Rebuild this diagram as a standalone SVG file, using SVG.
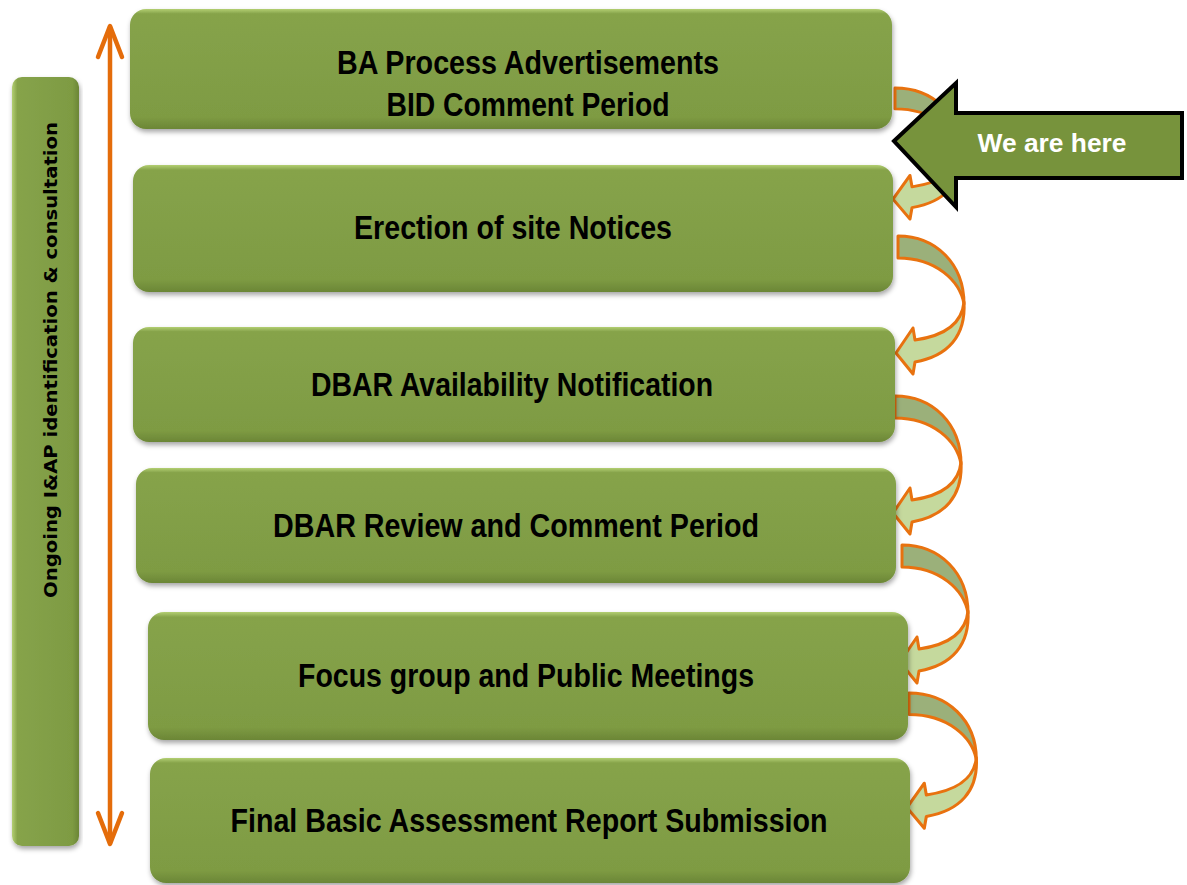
<svg xmlns="http://www.w3.org/2000/svg" width="1187" height="885" viewBox="0 0 1187 885">
<defs>
<style>
.box{fill:url(#g);}
.lbl{font-family:"Liberation Sans Narrow","Liberation Sans",Arial,sans-serif;font-weight:bold;font-size:33px;fill:#000;text-anchor:middle;}
.dark{fill:#9bb07a;stroke:#e8720f;stroke-width:3;stroke-linejoin:round;}
.light{fill:#c5d99d;stroke:#e8720f;stroke-width:3;stroke-linejoin:round;}
</style>
<linearGradient id="g" x1="0" y1="0" x2="0" y2="1">
<stop offset="0" stop-color="#b3cf72"/>
<stop offset="0.04" stop-color="#86a34a"/>
<stop offset="0.9" stop-color="#7e9b43"/>
<stop offset="1" stop-color="#6b8636"/>
</linearGradient>
<linearGradient id="gv" x1="0" y1="0" x2="1" y2="0">
<stop offset="0" stop-color="#b3cf72"/>
<stop offset="0.08" stop-color="#86a34a"/>
<stop offset="0.9" stop-color="#7e9b43"/>
<stop offset="1" stop-color="#6b8636"/>
</linearGradient>
<filter id="sh" x="-5%" y="-10%" width="110%" height="125%">
<feDropShadow dx="1" dy="3" stdDeviation="2.5" flood-color="#000" flood-opacity="0.35"/>
</filter>
<g id="curl">
<path class="dark" d="M0,0 C38,0 66,28 66,68 C62,45 38,22 0,22 Z"/>
<path class="light" d="M66,66 C64,88 45,100 17,104 L15,92 L-2,117 L15,138 L17,126 C50,120 68,100 66,66 Z"/>
</g>
</defs>
<rect width="1187" height="885" fill="#fff"/>

<g id="side-bar">
<rect x="12" y="77" width="67" height="769" rx="10" fill="url(#gv)" filter="url(#sh)"/>
<text transform="translate(57,360) rotate(-90)" font-family="'DejaVu Sans',Lato,sans-serif" font-weight="bold" font-size="17" text-anchor="middle" textLength="476" lengthAdjust="spacingAndGlyphs">Ongoing I&amp;AP identification &amp; consultation</text>
</g>

<g id="connectors">
<g id="timeline" stroke="#e46c0a" stroke-width="4.5" fill="none" stroke-linecap="round" stroke-linejoin="round">
<line x1="110" y1="27" x2="110" y2="843"/>
<polyline points="98,57 110,26 122,57"/>
<polyline points="98,813 110,844 122,813"/>
</g>
<use href="#curl" transform="translate(895,88) scale(1,0.95)"/>
<use href="#curl" transform="translate(898,236)"/>
<use href="#curl" transform="translate(895,396)"/>
<use href="#curl" transform="translate(902,545)"/>
<use href="#curl" transform="translate(909,693) scale(1.02,0.98)"/>
</g>

<g id="node1">
<rect class="box" x="130" y="9" width="762" height="120" rx="16" filter="url(#sh)"/>
<text class="lbl" x="528" y="74" textLength="382" lengthAdjust="spacingAndGlyphs">BA Process Advertisements</text>
<text class="lbl" x="528" y="116" textLength="283" lengthAdjust="spacingAndGlyphs">BID Comment Period</text>
</g>
<g id="node2">
<rect class="box" x="133" y="165" width="760" height="127" rx="16" filter="url(#sh)"/>
<text class="lbl" x="513" y="239" textLength="318" lengthAdjust="spacingAndGlyphs">Erection of site Notices</text>
</g>
<g id="node3">
<rect class="box" x="133" y="327" width="762" height="115" rx="16" filter="url(#sh)"/>
<text class="lbl" x="512" y="396" textLength="402" lengthAdjust="spacingAndGlyphs">DBAR Availability Notification</text>
</g>
<g id="node4">
<rect class="box" x="136" y="468" width="760" height="115" rx="16" filter="url(#sh)"/>
<text class="lbl" x="516" y="537" textLength="486" lengthAdjust="spacingAndGlyphs">DBAR Review and Comment Period</text>
</g>
<g id="node5">
<rect class="box" x="148" y="612" width="760" height="128" rx="16" filter="url(#sh)"/>
<text class="lbl" x="526" y="687" textLength="456" lengthAdjust="spacingAndGlyphs">Focus group and Public Meetings</text>
</g>
<g id="node6">
<rect class="box" x="150" y="758" width="760" height="125" rx="16" filter="url(#sh)"/>
<text class="lbl" x="529" y="832" textLength="597" lengthAdjust="spacingAndGlyphs">Final Basic Assessment Report Submission</text>
</g>

<g id="we-are-here">
<path d="M894,141 L956,83 L956,113 L1182,113 L1182,178 L956,178 L956,207 Z" fill="#77933c" stroke="#000" stroke-width="4" stroke-linejoin="miter"/>
<text x="1052" y="152" font-family="'Liberation Sans',Arial,sans-serif" font-weight="bold" font-size="25" fill="#fff" text-anchor="middle" textLength="149" lengthAdjust="spacingAndGlyphs">We are here</text>
</g>
</svg>
